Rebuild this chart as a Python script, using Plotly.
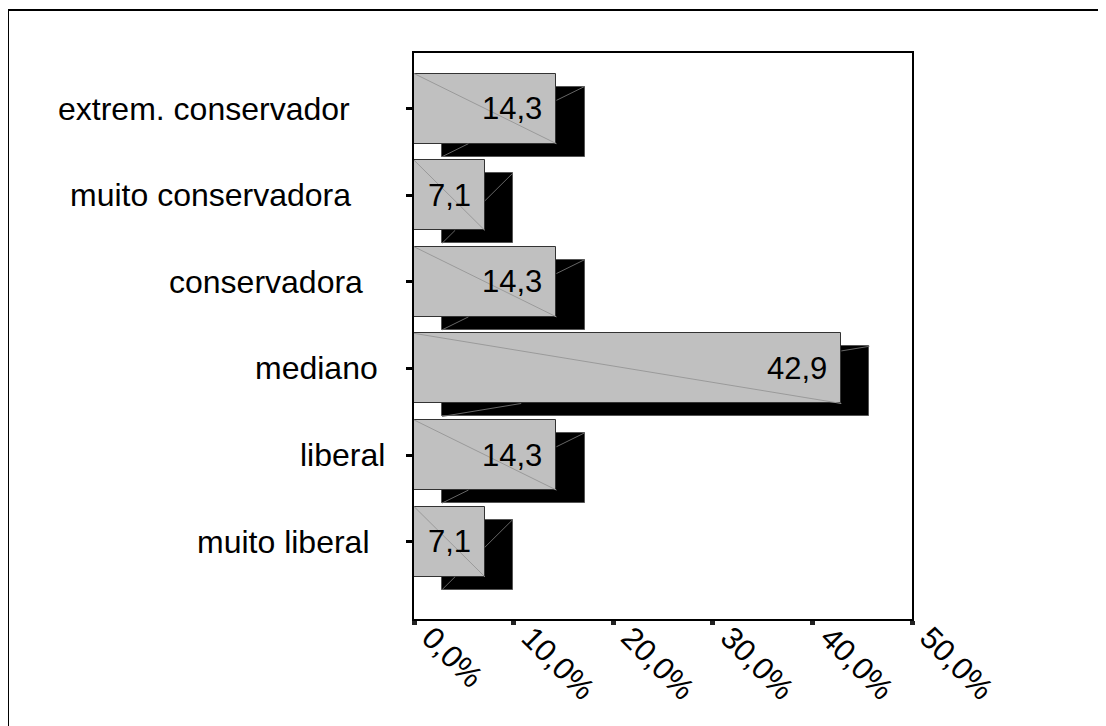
import plotly.graph_objects as go

categories = ["muito liberal", "liberal", "mediano", "conservadora", "muito conservadora", "extrem. conservador"]
values = [7.1, 14.3, 42.9, 14.3, 7.1, 14.3]
value_labels = ["7,1", "14,3", "42,9", "14,3", "7,1", "14,3"]
x_tickvals = [0, 10, 20, 30, 40, 50]
x_ticktext = ["0,0%", "10,0%", "20,0%", "30,0%", "40,0%", "50,0%"]
label_right_px = [370, 385, 378, 363, 351, 350]

W, H = 1106, 726
OFF = 8  # page body margin
P_LEFT, P_TOP, P_RIGHT, P_BOTTOM = 414, 53, 912, 619  # plot area in page pixels
PW = P_RIGHT - P_LEFT
PH = P_BOTTOM - P_TOP
ML = P_LEFT - OFF
MT = P_TOP - OFF
MR = W - ML - PW
MB = H - MT - PH

pos = list(range(len(categories)))
bw = 0.81
sx = 2.82   # shadow offset in %
sy = 0.15   # shadow offset in category units
FONT = "Arial, Liberation Sans, sans-serif"

fig = go.Figure()

# shadow bars
fig.add_trace(go.Bar(
    y=[p - sy for p in pos], x=values, base=[sx] * len(values), orientation="h",
    width=bw, marker=dict(color="black", line=dict(color="#555555", width=1)),
    hoverinfo="skip", showlegend=False))

# main bars
fig.add_trace(go.Bar(
    y=pos, x=values, orientation="h", width=bw,
    marker=dict(color="#C0C0C0", line=dict(color="#333333", width=1)),
    hoverinfo="skip", showlegend=False))

# shadow diagonals (bottom-left to top-right), only the parts not hidden by the grey bar
dx, dy = [], []
for p, v in zip(pos, values):
    x0, y0 = sx, p - sy - bw / 2
    x1, y1 = sx + v, p - sy + bw / 2
    t1 = sy / bw
    t2 = (v - sx) / v
    dx += [x0, x0 + (x1 - x0) * t1, None, x0 + (x1 - x0) * t2, x1, None]
    dy += [y0, y0 + (y1 - y0) * t1, None, y0 + (y1 - y0) * t2, y1, None]
fig.add_trace(go.Scatter(x=dx, y=dy, mode="lines", line=dict(color="#666666", width=1),
                         hoverinfo="skip", showlegend=False))

# main diagonals (top-left to bottom-right)
gx, gy = [], []
for p, v in zip(pos, values):
    gx += [0, v, None]
    gy += [p + bw / 2, p - bw / 2, None]
fig.add_trace(go.Scatter(x=gx, y=gy, mode="lines", line=dict(color="#9a9a9a", width=1),
                         hoverinfo="skip", showlegend=False))

annotations = []
for p, v, t in zip(pos, values, value_labels):
    annotations.append(dict(x=v, y=p, xref="x", yref="y", text=t, showarrow=False,
                            xanchor="right", yanchor="middle", xshift=-12,
                            font=dict(family=FONT, size=31, color="black")))
for p, c, rpx in zip(pos, categories, label_right_px):
    annotations.append(dict(x=(rpx - P_LEFT) / PW, y=p, xref="paper", yref="y", text=c,
                            showarrow=False, xanchor="right", yanchor="middle", xshift=2,
                            font=dict(family=FONT, size=32, color="black")))

def px_x(px):
    return (px - P_LEFT) / PW

def px_y(py):
    return (P_BOTTOM - py) / PH

shapes = [
    dict(type="line", xref="paper", yref="paper",
         x0=px_x(8), x1=px_x(W + 10), y0=px_y(10), y1=px_y(10),
         line=dict(color="black", width=2)),
    dict(type="line", xref="paper", yref="paper",
         x0=px_x(8), x1=px_x(8), y0=px_y(10), y1=px_y(H + 10),
         line=dict(color="black", width=2)),
]

ymin = -(P_BOTTOM - 541.6) / 86.6
ymax = ymin + PH / 86.6

fig.update_layout(
    width=W, height=H,
    margin=dict(l=ML, r=MR, t=MT, b=MB),
    paper_bgcolor="white", plot_bgcolor="white",
    barmode="overlay", bargap=0,
    showlegend=False,
    annotations=annotations,
    shapes=shapes,
    xaxis=dict(range=[0, 50], tickvals=x_tickvals, ticktext=x_ticktext, tickangle=45,
               ticks="outside", ticklen=4, tickwidth=5, tickcolor="#222222",
               ticklabelshift=17, ticklabelstandoff=-18,
               showgrid=False, zeroline=False, showline=True, linewidth=2, linecolor="black",
               mirror=True, tickfont=dict(family=FONT, size=31, color="black")),
    yaxis=dict(range=[ymin, ymax], tickvals=pos, ticktext=[""] * len(pos),
               ticks="outside", ticklen=6, tickwidth=3, tickcolor="black",
               showgrid=False, zeroline=False, showline=True, linewidth=2, linecolor="black",
               mirror=True),
)

fig.write_html("out.html")
